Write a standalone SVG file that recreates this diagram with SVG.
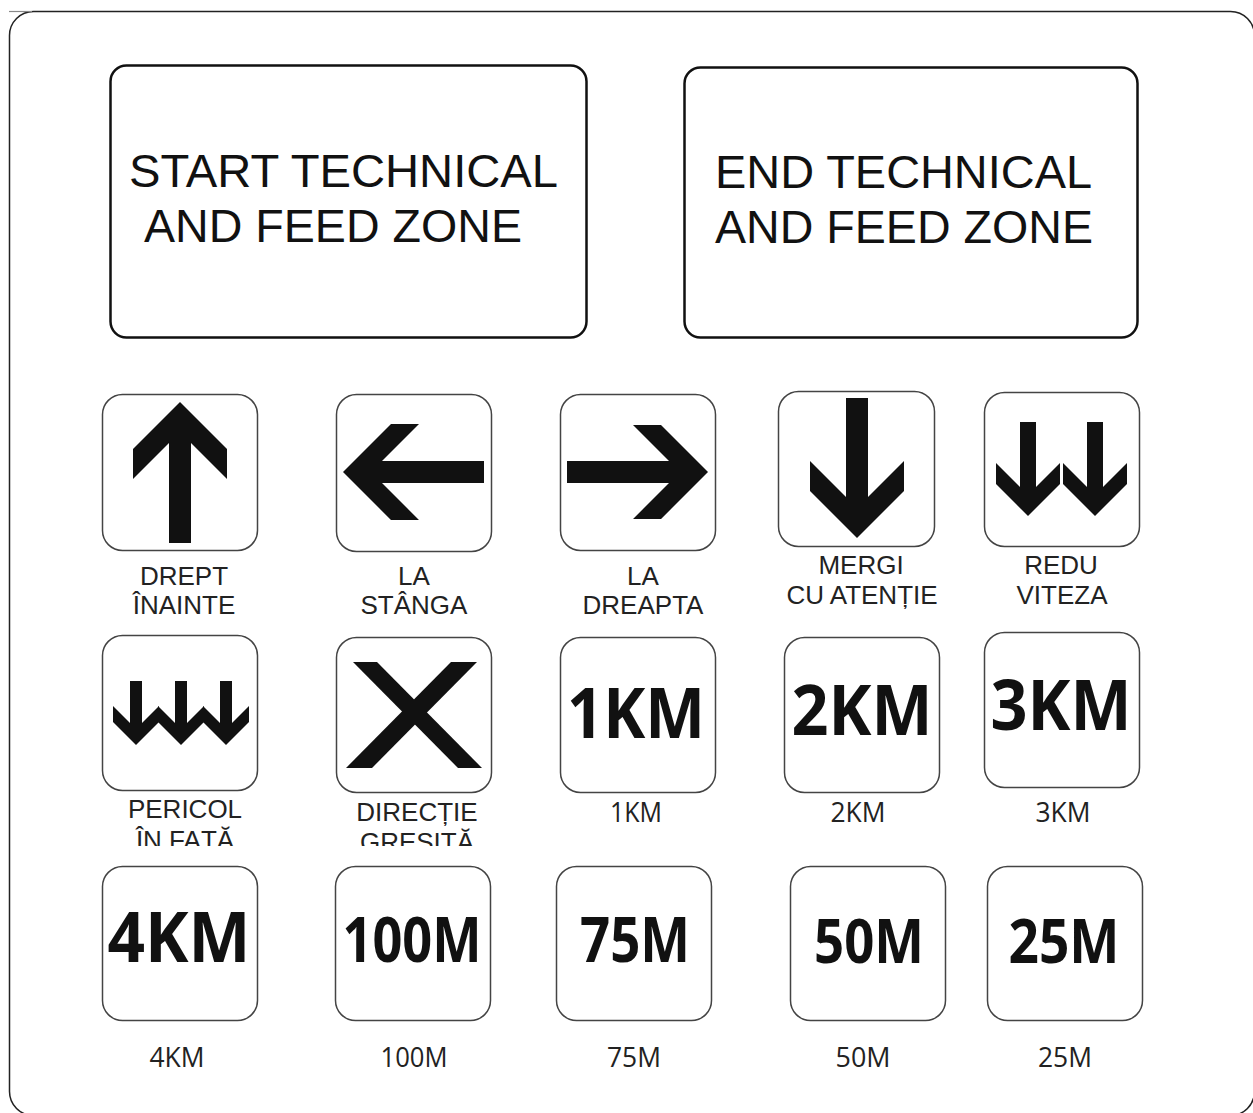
<svg xmlns="http://www.w3.org/2000/svg" width="1253" height="1113" viewBox="0 0 1253 1113">
<style>
.frame{fill:none;stroke:#222;stroke-width:1.5}
.zone{fill:#fff;stroke:#111;stroke-width:2.5}
.sign{fill:#fff;stroke:#444;stroke-width:1.5}
.glyph{fill:#111}
.zt{font-family:"Liberation Sans",Arial,sans-serif;font-size:46px;fill:#111}
.lbl{font-family:"Liberation Sans",Arial,sans-serif;font-size:26px;fill:#222;text-anchor:middle}
.big{font-family:"Open Sans","Noto Sans",sans-serif;font-weight:700;fill:#111;text-anchor:middle}
.dist{font-family:"Open Sans","Noto Sans",sans-serif;font-size:27px;fill:#222;text-anchor:middle}
</style>
<defs>
<clipPath id="cut"><rect x="0" y="0" width="1253" height="846"/></clipPath>
</defs>
<rect width="1253" height="1113" fill="#fff"/>
<g id="frame">
<rect class="frame" x="9.5" y="11.5" width="1245" height="1104" rx="24"/>
<line x1="9" y1="11.5" x2="32" y2="11.5" stroke="#888" stroke-width="1.2"/>
</g>
<g id="connectors"></g>

<g id="start-zone">
<rect class="zone" x="110.5" y="65.5" width="476" height="272" rx="16"/>
<text class="zt" x="129" y="187" textLength="429" lengthAdjust="spacingAndGlyphs">START TECHNICAL</text>
<text class="zt" x="144" y="242" textLength="378" lengthAdjust="spacingAndGlyphs">AND FEED ZONE</text>
</g>
<g id="end-zone">
<rect class="zone" x="684.5" y="67.5" width="453" height="270" rx="16"/>
<text class="zt" x="715" y="188" textLength="377" lengthAdjust="spacingAndGlyphs">END TECHNICAL</text>
<text class="zt" x="715" y="243" textLength="378" lengthAdjust="spacingAndGlyphs">AND FEED ZONE</text>
</g>

<g id="drept-inainte">
<rect class="sign" x="102.5" y="394.5" width="155" height="156" rx="20"/>
<polygon class="glyph" points="180,402 227,449 227,479 191,443 191,543 169,543 169,443 133,479 133,449"/>
<text class="lbl" x="184" y="585">DREPT</text>
<text class="lbl" x="184" y="614">ÎNAINTE</text>
</g>
<g id="la-stanga">
<rect class="sign" x="336.5" y="394.5" width="155" height="157" rx="20"/>
<polygon class="glyph" points="343,472 391,424 419,424 382,461 484,461 484,483 382,483 419,520 391,520"/>
<text class="lbl" x="414" y="585">LA</text>
<text class="lbl" x="414" y="614">STÂNGA</text>
</g>
<g id="la-dreapta">
<rect class="sign" x="560.5" y="394.5" width="155" height="156" rx="20"/>
<polygon class="glyph" points="708,472 661,425 633,425 669,461 567,461 567,483 669,483 633,519 661,519"/>
<text class="lbl" x="643" y="585">LA</text>
<text class="lbl" x="643" y="614">DREAPTA</text>
</g>
<g id="mergi-cu-atentie">
<rect class="sign" x="778.5" y="391.5" width="156" height="155" rx="20"/>
<polygon class="glyph" points="857,538 810,491 810,461 846,497 846,398 868,398 868,497 904,461 904,491"/>
<text class="lbl" x="861" y="574">MERGI</text>
<text class="lbl" x="862" y="604">CU ATENȚIE</text>
</g>
<g id="redu-viteza">
<rect class="sign" x="984.5" y="392.5" width="155" height="154" rx="20"/>
<polygon class="glyph" points="1028,516 996,484 996,463 1020,487 1020,422 1036,422 1036,487 1060,463 1060,484"/>
<polygon class="glyph" points="1095,516 1063,484 1063,463 1087,487 1087,422 1103,422 1103,487 1127,463 1127,484"/>
<text class="lbl" x="1061" y="574">REDU</text>
<text class="lbl" x="1062" y="604">VITEZA</text>
</g>

<g id="pericol-in-fata">
<rect class="sign" x="102.5" y="635.5" width="155" height="155" rx="20"/>
<polygon class="glyph" points="136,745 113,722 113,706 130,723 130,681 142,681 142,723 159,706 159,722"/>
<polygon class="glyph" points="181,745 158,722 158,706 175,723 175,681 187,681 187,723 204,706 204,722"/>
<polygon class="glyph" points="226,745 203,722 203,706 220,723 220,681 232,681 232,723 249,706 249,722"/>
<text class="lbl" x="185" y="818">PERICOL</text>
<text class="lbl" x="185" y="849" clip-path="url(#cut)">ÎN FAȚĂ</text>
</g>
<g id="directie-gresita">
<rect class="sign" x="336.5" y="637.5" width="155" height="155" rx="20"/>
<polygon class="glyph" points="353,662 377,662 482,768 458,768"/>
<polygon class="glyph" points="451,662 477,662 372,768 346,768"/>
<text class="lbl" x="417" y="821">DIRECȚIE</text>
<text class="lbl" x="417" y="851" clip-path="url(#cut)">GREȘITĂ</text>
</g>
<g id="km1">
<rect class="sign" x="560.5" y="637.5" width="155" height="155" rx="20"/>
<text class="big" x="636" y="738" font-size="70" textLength="138" lengthAdjust="spacingAndGlyphs">1KM</text>
<text class="dist" x="636" y="822" textLength="52" lengthAdjust="spacingAndGlyphs">1KM</text>
</g>
<g id="km2">
<rect class="sign" x="784.5" y="637.5" width="155" height="155" rx="20"/>
<text class="big" x="862" y="735" font-size="69" textLength="141" lengthAdjust="spacingAndGlyphs">2KM</text>
<text class="dist" x="858" y="822" textLength="55" lengthAdjust="spacingAndGlyphs">2KM</text>
</g>
<g id="km3">
<rect class="sign" x="984.5" y="632.5" width="155" height="155" rx="20"/>
<text class="big" x="1061" y="730" font-size="70" textLength="141" lengthAdjust="spacingAndGlyphs">3KM</text>
<text class="dist" x="1063" y="822" textLength="55" lengthAdjust="spacingAndGlyphs">3KM</text>
</g>

<g id="km4">
<rect class="sign" x="102.5" y="866.5" width="155" height="154" rx="20"/>
<text class="big" x="179" y="962" font-size="70" textLength="143" lengthAdjust="spacingAndGlyphs">4KM</text>
<text class="dist" x="177" y="1067" textLength="55" lengthAdjust="spacingAndGlyphs">4KM</text>
</g>
<g id="m100">
<rect class="sign" x="335.5" y="866.5" width="155" height="154" rx="20"/>
<text class="big" x="412" y="962" font-size="62" textLength="139" lengthAdjust="spacingAndGlyphs">100M</text>
<text class="dist" x="414" y="1067" textLength="67" lengthAdjust="spacingAndGlyphs">100M</text>
</g>
<g id="m75">
<rect class="sign" x="556.5" y="866.5" width="155" height="154" rx="20"/>
<text class="big" x="635" y="962" font-size="62" textLength="110" lengthAdjust="spacingAndGlyphs">75M</text>
<text class="dist" x="634" y="1067" textLength="54" lengthAdjust="spacingAndGlyphs">75M</text>
</g>
<g id="m50">
<rect class="sign" x="790.5" y="866.5" width="155" height="154" rx="20"/>
<text class="big" x="869" y="963" font-size="61" textLength="110" lengthAdjust="spacingAndGlyphs">50M</text>
<text class="dist" x="863" y="1067" textLength="55" lengthAdjust="spacingAndGlyphs">50M</text>
</g>
<g id="m25">
<rect class="sign" x="987.5" y="866.5" width="155" height="154" rx="20"/>
<text class="big" x="1064" y="963" font-size="61" textLength="111" lengthAdjust="spacingAndGlyphs">25M</text>
<text class="dist" x="1065" y="1067" textLength="54" lengthAdjust="spacingAndGlyphs">25M</text>
</g>
</svg>
